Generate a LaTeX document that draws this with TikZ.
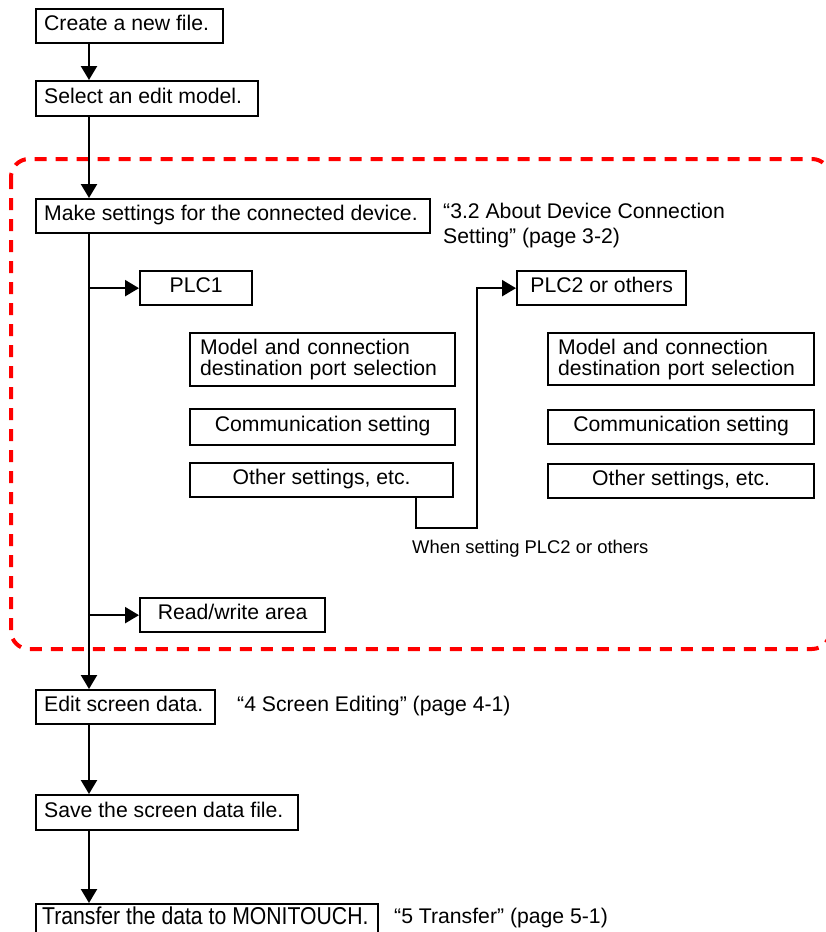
\documentclass[tikz,border=0pt]{standalone}
\usepackage{fontspec}
\setmainfont{Liberation Sans}
\usepackage{graphicx}
\usetikzlibrary{arrows.meta,calc}
\definecolor{dashred}{RGB}{255,0,0}
\begin{document}
\begin{tikzpicture}[x=1pt,y=-1pt,
  bigfont/.style={font=\fontsize{21.2pt}{21pt}\selectfont},
  boxl/.style={draw, line width=2.3pt, anchor=north west, inner xsep=8pt, inner ysep=0pt,
    text height=15pt, text depth=6pt, bigfont},
  boxm/.style={draw, line width=2.3pt, anchor=north west, inner xsep=10pt, inner ysep=0pt,
    align=left, bigfont},
  boxc/.style={draw, line width=2.3pt, anchor=north west, inner sep=0pt, align=center,
    text height=15pt, text depth=6pt, bigfont},
  note/.style={anchor=base west, inner sep=0pt, bigfont},
  smallnote/.style={anchor=base west, inner sep=0pt, font=\fontsize{18.4pt}{20pt}\selectfont},
  arr/.style={line width=2.3pt, -{Triangle[length=14pt,width=16pt]}},
  redline/.style={draw=dashred, line width=4pt, dash pattern=on 12pt off 9pt, rounded corners=18pt}
]
\useasboundingbox (0,0) rectangle (826,932);

% dashed red frame
\draw[redline] (11,159) rectangle (830,649);

% main column
\node[boxl, minimum height=34pt] (create) at (35,8) {\makebox[171pt][l]{Create a new file.}};
\node[boxl, minimum height=35pt] (select) at (35,80) {\makebox[206pt][l]{Select an edit model.}};
\node[boxl, minimum height=34pt] (make) at (35,198) {\makebox[378pt][l]{Make settings for the connected device.}};
\node[boxl, minimum height=34pt] (edit) at (35,689) {\makebox[163pt][l]{Edit screen data.}};
\node[boxl, minimum height=35pt] (save) at (35,794) {\makebox[246pt][l]{Save the screen data file.}};
\node[boxl, inner xsep=6pt, minimum height=32pt] (transfer) at (35,903) {\makebox[330pt][l]{\scalebox{1}[1.15]{Transfer the data to MONITOUCH.}}};

% PLC boxes
\node[boxc, minimum width=112pt, minimum height=34pt] (plc1) at (139,270) {PLC1};
\node[boxc, minimum width=169pt, minimum height=34pt] (plc2) at (516,270) {PLC2 or others};

\node[boxm, text width=245pt, minimum height=53pt] (model1) at (189,332) {Model and connection\\destination port selection};
\node[boxc, minimum width=265pt, minimum height=36pt] (comm1) at (189,408) {Communication setting};
\node[boxc, minimum width=263pt, minimum height=34pt] (other1) at (189,462) {Other settings, etc.};

\node[boxm, text width=246pt, minimum height=52pt] (model2) at (547,332) {Model and connection\\destination port selection};
\node[boxc, minimum width=266pt, minimum height=34pt] (comm2) at (547,409) {Communication setting};
\node[boxc, minimum width=266pt, minimum height=34pt] (other2) at (547,463) {Other settings, etc.};

\node[boxc, minimum width=185pt, minimum height=34pt] (rw) at (139,597) {Read/write area};

% notes
\node[note] (n32a) at (443,218) {“3.2 About Device Connection};
\node[note] (n32b) at (443,243) {Setting” (page 3-2)};
\node[note] (n4) at (237,711) {“4 Screen Editing” (page 4-1)};
\node[note] (n5) at (394,923) {“5 Transfer” (page 5-1)};
\node[smallnote] (when) at (412,553) {When setting PLC2 or others};

% connectors
\coordinate (sp) at (89,0);
\draw[arr] (create.south -| sp) -- (select.north -| sp);
\draw[arr] (select.south -| sp) -- (make.north -| sp);
\draw[arr] (make.south -| sp) -- (edit.north -| sp);
\draw[arr] (plc1.west -| sp) -- (plc1.west);
\draw[arr] (rw.west -| sp) -- (rw.west);
\draw[arr] (edit.south -| sp) -- (save.north -| sp);
\draw[arr] (save.south -| sp) -- (transfer.north -| sp);
\coordinate (k1) at (416,528);
\coordinate (k2) at (477,528);
\draw[arr] (k1 |- other1.south) -- (k1) -- (k2) |- (plc2.west);
\end{tikzpicture}
\end{document}
